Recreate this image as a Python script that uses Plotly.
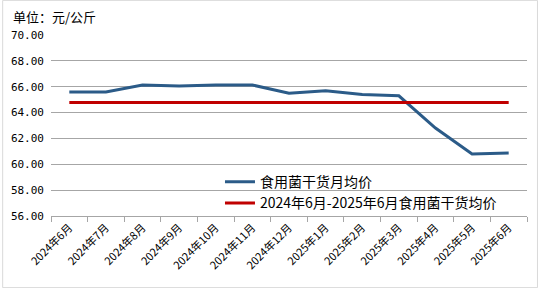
import plotly.graph_objects as go

months = ["2024年6月", "2024年7月", "2024年8月", "2024年9月", "2024年10月", "2024年11月",
          "2024年12月", "2025年1月", "2025年2月", "2025年3月", "2025年4月", "2025年5月", "2025年6月"]
monthly_avg = [65.60, 65.60, 66.13, 66.05, 66.13, 66.13, 65.50, 65.68, 65.40, 65.30, 62.80, 60.80, 60.87]
period_avg = [64.77] * len(months)

name_monthly = "食用菌干货月均价"
name_period = "2024年6月-2025年6月食用菌干货均价"
unit_title = "单位：元/公斤"

font_family = "Noto Sans CJK SC, DejaVu Sans, sans-serif"

fig = go.Figure()
fig.add_trace(go.Scatter(x=months, y=monthly_avg, mode="lines", name=name_monthly,
                         line=dict(color="#2B5B88", width=3)))
fig.add_trace(go.Scatter(x=months, y=period_avg, mode="lines", name=name_period,
                         line=dict(color="#C00000", width=3)))

fig.update_layout(
    width=538, height=288,
    margin=dict(l=49, r=11, t=35, b=72),
    paper_bgcolor="white", plot_bgcolor="white",
    font=dict(family=font_family, color="#000000"),
    showlegend=True,
    legend=dict(x=0.355, y=0.275, xanchor="left", yanchor="top",
                bgcolor="rgba(0,0,0,0)", font=dict(size=14, color="#000000"),
                tracegroupgap=0, itemwidth=30),
    annotations=[dict(text=unit_title, xref="paper", yref="paper", x=-0.085, y=1.0,
                      xanchor="left", yanchor="bottom", yshift=7, showarrow=False,
                      font=dict(size=13, color="#000000"))],
    shapes=[dict(type="rect", xref="paper", yref="paper",
                 x0=-49/478 + 0.001, x1=1 + 11/478 - 0.001,
                 y0=-72/181 + 0.002, y1=1 + 35/181 - 0.002,
                 line=dict(color="#D9D9D9", width=1), layer="below")],
)

fig.update_xaxes(
    type="category", tickangle=-45, tickson="boundaries",
    ticks="outside", ticklen=5, tickcolor="#A6A6A6",
    showline=True, linecolor="#A6A6A6", linewidth=1,
    showgrid=False, tickfont=dict(size=11, color="#000000"),
    range=[-0.5, len(months) - 0.5],
)
fig.update_yaxes(
    range=[56, 70], dtick=2, tickformat=".2f",
    showgrid=True, gridcolor="#A6A6A6", gridwidth=1,
    showline=False, zeroline=False, ticks="", ticklabelstandoff=6,
    tickfont=dict(size=11, color="#000000", family="DejaVu Sans Mono, monospace"),
)

fig.write_html("out.html")
